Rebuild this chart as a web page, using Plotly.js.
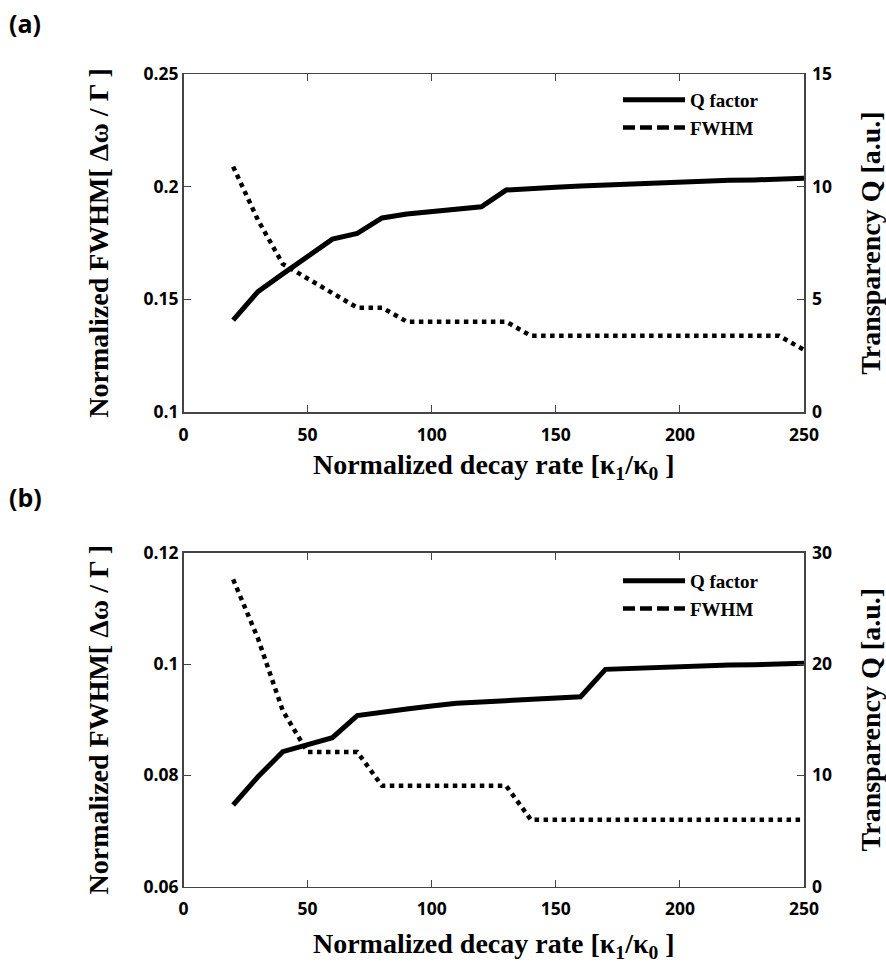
<!DOCTYPE html>
<html><head><meta charset="utf-8">
<script src="https://cdn.plot.ly/plotly-3.0.1.min.js"></script>
<style>html,body{margin:0;padding:0;background:#fff}</style>
</head><body><div id="chart" style="width:886px;height:967px"></div>
<script>
const decayRate = [20,30,40,50,60,70,80,90,100,110,120,130,140,150,160,170,180,190,200,210,220,230,240,250];
const qFactorA = [4.08,5.34,6.13,6.89,7.67,7.93,8.61,8.79,8.89,9.01,9.11,9.85,9.93,9.97,10.03,10.08,10.13,10.15,10.20,10.24,10.28,10.30,10.33,10.37];
const fwhmA = [0.2089,0.1852,0.1657,0.1592,0.1530,0.1463,0.1463,0.1401,0.1401,0.1401,0.1401,0.1401,0.1338,0.1338,0.1338,0.1338,0.1338,0.1338,0.1338,0.1338,0.1338,0.1338,0.1338,0.1276];
const qFactorB = [7.33,9.87,12.12,12.72,13.38,15.36,15.71,15.96,16.23,16.47,16.59,16.70,16.83,16.95,17.06,19.52,19.61,19.73,19.82,19.85,19.91,19.94,20.00,20.06];
const fwhmB = [0.1152,0.1046,0.0916,0.0842,0.0842,0.0842,0.0781,0.0781,0.0781,0.0781,0.0781,0.0781,0.0720,0.0720,0.0720,0.0720,0.0720,0.0720,0.0720,0.0720,0.0720,0.0720,0.0720,0.0720];
const xTicks = [0,50,100,150,200,250];
const leftTicksA = [0.1,0.15,0.2,0.25];
const leftTickTextA = ['0.1','0.15','0.2','0.25'];
const rightTicksA = [0,5,10,15];
const leftTicksB = [0.06,0.08,0.1,0.12];
const leftTickTextB = ['0.06','0.08','0.1','0.12'];
const rightTicksB = [0,10,20,30];
const seriesNames = ['Q factor','FWHM'];
const panelLabels = ['(a)','(b)'];

const serif = 'Liberation Serif';
const sans = 'Open Sans';
const lineCol = '#000';
const axCol = '#444';
const tickFont = {family: sans, size: 17.5, color: '#000', weight: 'bold'};
const titleFont = {family: serif, size: 28, color: '#000', weight: 'bold'};
const xTitle = 'Normalized decay rate [κ<sub>1</sub>/κ<sub>0</sub> ]';
const yTitle = 'Normalized FWHM[ Δω / Γ ]';
const y2Title = 'Transparency Q [a.u.]';

function xa(domain, anchor, standoff) {
  return {domain: domain, anchor: anchor, range: [0,250], tickvals: xTicks, ticks: 'inside', ticklen: 7,
    tickcolor: axCol, showline: true, linecolor: axCol, linewidth: 1.5, mirror: 'ticks', showgrid: false,
    zeroline: false, tickfont: tickFont, ticklabelstandoff: 6,
    title: {text: xTitle, font: titleFont, standoff: standoff}};
}
function yl(domain, anchor, range, tv, tt) {
  return {domain: domain, anchor: anchor, range: range, tickvals: tv, ticktext: tt, ticks: 'inside', ticklen: 7,
    tickcolor: axCol, showline: true, linecolor: axCol, linewidth: 1.5, showgrid: false, zeroline: false,
    tickfont: tickFont, ticklabelstandoff: 0,
    title: {text: yTitle, font: titleFont, standoff: 26}};
}
function yr(overlay, anchor, range, tv) {
  return {overlaying: overlay, anchor: anchor, side: 'right', range: range, tickvals: tv, ticks: 'inside', ticklen: 7,
    tickcolor: axCol, showline: true, linecolor: axCol, linewidth: 1.5, showgrid: false, zeroline: false,
    tickfont: tickFont, ticklabelstandoff: 3,
    title: {text: y2Title, font: titleFont, standoff: 30}};
}

const traces = [
  {x: decayRate, y: fwhmA, xaxis: 'x', yaxis: 'y', mode: 'lines', showlegend: false,
   line: {color: lineCol, width: 4.5, dash: 'dot'}},
  {x: decayRate, y: qFactorA, xaxis: 'x', yaxis: 'y2', mode: 'lines', name: seriesNames[0], legend: 'legend',
   line: {color: lineCol, width: 5}},
  {x: [null], y: [null], xaxis: 'x', yaxis: 'y', mode: 'lines', name: seriesNames[1], legend: 'legend',
   line: {color: lineCol, width: 4.5, dash: '12px,5px'}},
  {x: decayRate, y: fwhmB, xaxis: 'x2', yaxis: 'y3', mode: 'lines', showlegend: false,
   line: {color: lineCol, width: 4.5, dash: 'dot'}},
  {x: decayRate, y: qFactorB, xaxis: 'x2', yaxis: 'y4', mode: 'lines', name: seriesNames[0], legend: 'legend2',
   line: {color: lineCol, width: 5}},
  {x: [null], y: [null], xaxis: 'x2', yaxis: 'y3', mode: 'lines', name: seriesNames[1], legend: 'legend2',
   line: {color: lineCol, width: 4.5, dash: '12px,5px'}}
];

const W = 886, H = 967;
const xd = [183.5/W, 804/W];
const ydA = [1-412/H, 1-74/H];
const ydB = [1-886.6/H, 1-552.7/H];
const legFont = {family: serif, size: 19, color: '#000', weight: 'bold'};

const layout = {
  width: W, height: H, margin: {l:0, r:0, t:0, b:0}, paper_bgcolor: '#fff', plot_bgcolor: '#fff',
  xaxis: xa(xd, 'y', 10),
  yaxis: yl(ydA, 'x', [0.1,0.25], leftTicksA, leftTickTextA),
  yaxis2: yr('y', 'x', [0,15], rightTicksA),
  xaxis2: xa(xd, 'y3', 14),
  yaxis3: yl(ydB, 'x2', [0.06,0.12], leftTicksB, leftTickTextB),
  yaxis4: yr('y3', 'x2', [0,30], rightTicksB),
  legend: {x: 618/W, y: 1-81/H, xanchor: 'left', yanchor: 'top', bgcolor: 'rgba(0,0,0,0)', font: legFont,
    itemwidth: 62, tracegroupgap: 0},
  legend2: {x: 618/W, y: 1-562/H, xanchor: 'left', yanchor: 'top', bgcolor: 'rgba(0,0,0,0)', font: legFont,
    itemwidth: 62, tracegroupgap: 0},
  annotations: [
    {text: panelLabels[0], xref: 'paper', yref: 'paper', x: 7/W, y: 1-23/H, xanchor: 'left', yanchor: 'middle',
     showarrow: false, font: {family: sans, size: 25, color: '#000', weight: 'bold'}},
    {text: panelLabels[1], xref: 'paper', yref: 'paper', x: 7/W, y: 1-497/H, xanchor: 'left', yanchor: 'middle',
     showarrow: false, font: {family: sans, size: 25, color: '#000', weight: 'bold'}}
  ]
};
Plotly.newPlot('chart', traces, layout, {staticPlot: true, displayModeBar: false});
</script></body></html>
